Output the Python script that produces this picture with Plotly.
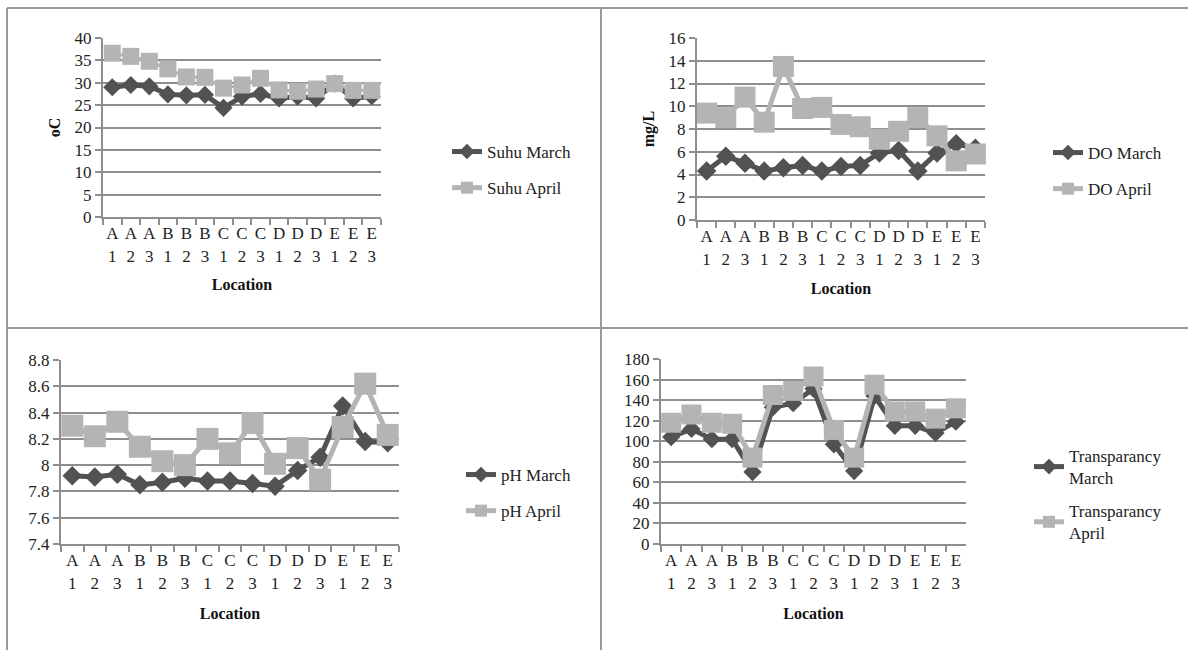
import plotly.graph_objects as go

# ---------------- data ----------------
locations = ["A1", "A2", "A3", "B1", "B2", "B3", "C1", "C2", "C3", "D1", "D2", "D3", "E1", "E2", "E3"]
tick_text = ["A<br>1", "A<br>2", "A<br>3", "B<br>1", "B<br>2", "B<br>3", "C<br>1", "C<br>2", "C<br>3",
             "D<br>1", "D<br>2", "D<br>3", "E<br>1", "E<br>2", "E<br>3"]

suhu_march = [29.0, 29.5, 29.2, 27.4, 27.2, 27.3, 24.4, 26.9, 27.5, 26.5, 26.9, 26.5, 29.8, 26.5, 27.0]
suhu_april = [36.6, 35.9, 34.8, 33.1, 31.3, 31.2, 28.8, 29.5, 31.0, 28.4, 28.1, 28.6, 29.8, 28.3, 28.3]

do_march = [4.3, 5.6, 5.0, 4.3, 4.6, 4.8, 4.3, 4.7, 4.8, 5.9, 6.1, 4.3, 5.9, 6.7, 6.3]
do_april = [9.4, 9.0, 10.8, 8.6, 13.5, 9.8, 9.9, 8.4, 8.2, 7.1, 7.8, 9.0, 7.4, 5.2, 5.8]

ph_march = [7.92, 7.91, 7.93, 7.85, 7.87, 7.90, 7.88, 7.88, 7.86, 7.84, 7.96, 8.06, 8.45, 8.18, 8.17]
ph_april = [8.30, 8.22, 8.33, 8.14, 8.03, 8.00, 8.20, 8.09, 8.32, 8.01, 8.13, 7.89, 8.29, 8.62, 8.23]

tr_march = [104, 112, 102, 102, 70, 133, 137, 151, 97, 71, 144, 115, 115, 108, 119]
tr_april = [118, 126, 118, 117, 84, 145, 149, 163, 111, 84, 155, 129, 129, 122, 132]

W, H = 1188, 650
DARK = "#525252"
LIGHT = "#b4b4b4"
GRID = "#8e8e8e"
FONT = "Liberation Serif"

def px_x(p):
    return p / W

def px_y(p):
    return 1 - p / H

panels = [
    dict(m=suhu_march, a=suhu_april, names=("Suhu March", "Suhu April"),
         xd=(103, 381), yd=(38, 217), rng=[0, 40], dt=5, title="oC",
         leg=(447, 134), gap=11, ms=(14, 17), alw=3, stand=14),
    dict(m=do_march, a=do_april, names=("DO March", "DO April"),
         xd=(697, 985), yd=(38, 220), rng=[0, 16], dt=2, title="mg/L",
         leg=(1048, 135), gap=11, ms=(15, 21), alw=5, stand=15),
    dict(m=ph_march, a=ph_april, names=("pH March", "pH April"),
         xd=(61, 399), yd=(360, 544), rng=[7.4, 8.8], dt=0.2, title=None,
         leg=(461, 457), gap=11, ms=(15, 22), alw=5, stand=16),
    dict(m=tr_march, a=tr_april, names=("Transparancy<br>March", "Transparancy<br>April"),
         xd=(661, 966), yd=(359, 544), rng=[0, 180], dt=20, title=None,
         leg=(1029, 438), gap=8, ms=(14, 20), alw=5, stand=16),
]

fig = go.Figure()
layout = dict()

for i, p in enumerate(panels, start=1):
    sfx = "" if i == 1 else str(i)
    legname = "legend" if i == 1 else f"legend{i}"
    fig.add_trace(go.Scatter(
        x=locations, y=p["m"], name=p["names"][0], mode="lines+markers",
        line=dict(color=DARK, width=5),
        marker=dict(symbol="diamond", size=p["ms"][0], color=DARK),
        xaxis="x" + sfx, yaxis="y" + sfx, legend=legname, legendgroup=f"m{i}",
        cliponaxis=False,
    ))
    fig.add_trace(go.Scatter(
        x=locations, y=p["a"], name=p["names"][1], mode="lines+markers",
        line=dict(color=LIGHT, width=p["alw"]),
        marker=dict(symbol="square", size=p["ms"][1], color=LIGHT),
        xaxis="x" + sfx, yaxis="y" + sfx, legend=legname, legendgroup=f"a{i}",
        cliponaxis=False,
    ))
    layout["xaxis" + sfx] = dict(
        domain=[px_x(p["xd"][0]), px_x(p["xd"][1])],
        anchor="y" + sfx, type="category", range=[-0.5, len(locations) - 0.5],
        categoryorder="array", categoryarray=locations,
        tickmode="array", tickvals=locations, ticktext=tick_text, tickangle=0,
        tickson="boundaries", ticks="outside", ticklen=6, tickwidth=2, tickcolor=GRID,
        showline=True, linecolor=GRID, linewidth=2, showgrid=False,
        tickfont=dict(family=FONT, size=17, color="#222"),
        title=dict(text="<b>Location</b>", font=dict(family=FONT, size=16, color="#111"),
                   standoff=p["stand"]),
        zeroline=False, automargin=False,
    )
    layout["yaxis" + sfx] = dict(
        domain=[px_y(p["yd"][1]), px_y(p["yd"][0])],
        anchor="x" + sfx, range=p["rng"], dtick=p["dt"], tick0=p["rng"][0],
        ticks="outside", ticklen=6, tickwidth=2, tickcolor=GRID,
        showline=True, linecolor=GRID, linewidth=2,
        showgrid=True, gridcolor=GRID, gridwidth=2, zeroline=False,
        tickfont=dict(family=FONT, size=17, color="#222"),
        title=dict(text=f"<b>{p['title']}</b>" if p["title"] else "",
                   font=dict(family=FONT, size=16, color="#111"), standoff=10),
        automargin=False,
    )
    layout[legname] = dict(
        x=px_x(p["leg"][0]), y=px_y(p["leg"][1]), xanchor="left", yanchor="top",
        font=dict(family=FONT, size=17, color="#222"), bgcolor="rgba(0,0,0,0)",
        tracegroupgap=p["gap"], itemsizing="constant", traceorder="grouped",
    )

border = dict(type="line", xref="paper", yref="paper", line=dict(color="#9a9a9a", width=2))
shapes = [
    dict(border, x0=px_x(7), x1=1, y0=px_y(8), y1=px_y(8)),
    dict(border, x0=px_x(7), x1=px_x(7), y0=px_y(8), y1=0),
    dict(border, x0=px_x(601), x1=px_x(601), y0=px_y(8), y1=0),
    dict(border, x0=px_x(7), x1=1, y0=px_y(328), y1=px_y(328)),
]

fig.update_layout(
    width=W, height=H, margin=dict(l=0, r=0, t=0, b=0, pad=0, autoexpand=False),
    paper_bgcolor="white", plot_bgcolor="white",
    font=dict(family=FONT, size=17, color="#222"),
    shapes=shapes, showlegend=True,
    **layout,
)

fig.write_html("out.html", config={"displayModeBar": False},
               post_script="document.body.style.margin='0';document.body.style.overflow='hidden';")
